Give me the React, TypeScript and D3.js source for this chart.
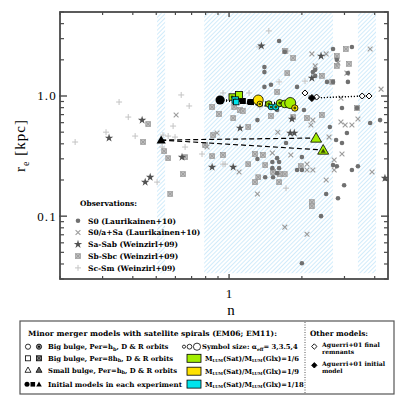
import React from 'react';
import * as d3 from 'd3';

type P = [number, number];

// ---------- Observations (n, r_e[kpc]) ----------
const s0Dots: P[] = [
  [1.61, 2.87], [1.70, 2.33], [1.40, 1.74], [1.40, 1.58], [2.22, 1.58], [2.27, 1.65], [2.27, 1.47],
  [2.69, 2.46], [3.22, 2.56], [2.79, 2.0], [3.10, 1.55], [3.10, 1.31], [2.54, 1.31], [2.69, 1.31],
  [1.49, 1.24], [1.91, 1.19], [1.31, 0.63], [1.58, 0.764], [2.04, 0.764], [2.93, 0.794], [3.38, 0.794],
  [4.21, 0.63], [3.83, 0.596], [2.77, 0.43], [3.07, 0.492], [2.93, 0.406], [1.31, 0.299], [1.41, 0.211],
  [1.51, 0.282], [1.58, 0.304], [1.61, 0.282], [1.61, 0.251], [1.51, 0.251], [1.58, 0.228], [1.52, 0.211],
  [2.0, 0.31], [1.91, 0.242], [2.0, 0.242], [2.40, 0.1], [2.0, 0.0406], [2.52, 0.153], [2.69, 0.266],
  [2.79, 0.26], [2.99, 0.181], [2.82, 0.141], [3.22, 0.242], [3.41, 0.26], [1.40, 1.19], [2.61, 0.552],
  [1.72, 0.406],
];
const s0aSa: P[] = [
  [2.20, 2.24], [2.52, 2.24], [3.83, 2.46], [2.27, 1.78], [2.82, 1.88], [3.07, 1.55], [4.25, 1.14],
  [2.22, 0.63], [2.90, 0.607], [3.02, 0.574], [3.22, 0.574], [2.18, 0.574], [2.59, 0.455], [1.59, 0.50],
  [0.892, 0.492], [0.604, 0.695], [1.10, 0.233], [1.31, 0.153], [1.80, 0.323], [1.51, 0.335], [2.10, 0.271],
  [2.10, 0.242], [2.22, 0.242], [1.70, 0.081], [2.10, 0.0708], [2.52, 0.20], [2.72, 0.293], [2.72, 0.242],
  [2.93, 0.329], [3.90, 0.233], [0.811, 0.376], [2.90, 0.96], [3.41, 0.643],
];
const saSab: P[] = [
  [1.36, 2.61], [2.40, 2.15], [2.20, 1.41], [1.11, 0.541], [1.79, 0.492], [1.86, 0.492], [0.851, 0.256],
  [1.04, 0.256], [0.639, 0.31], [0.437, 0.63], [0.319, 0.447], [0.472, 0.211], [0.45, 0.192], [4.41, 0.207],
  [1.82, 0.643],
];
const sbSbc: P[] = [
  [1.84, 2.07], [1.70, 2.37], [3.04, 2.46], [2.79, 2.15], [2.79, 1.78], [3.13, 1.85], [1.74, 1.55],
  [2.42, 1.47], [2.67, 1.31], [0.851, 0.81], [1.05, 0.81], [1.04, 0.655], [1.20, 0.552], [1.49, 0.681],
  [1.84, 0.668], [2.10, 0.655], [2.42, 0.695], [3.38, 0.794], [0.859, 0.473], [0.796, 0.391], [0.851, 0.316],
  [0.944, 0.323], [1.20, 0.271], [1.28, 0.329], [1.32, 0.211], [1.28, 0.192], [1.38, 0.323], [1.41, 0.266],
  [1.52, 0.233], [1.62, 0.224], [1.70, 0.224], [1.61, 0.192], [1.98, 0.261], [2.20, 0.131], [2.20, 0.121],
  [0.539, 0.348], [0.658, 0.31], [0.645, 0.224], [0.571, 0.153], [0.56, 0.304], [0.463, 0.584], [0.441, 0.414],
  [0.909, 0.708], [1.11, 0.764], [1.14, 0.75], [1.58, 1.08],
];
const scSm: P[] = [
  [1.46, 3.48], [1.75, 2.37], [1.33, 2.56], [2.06, 1.33], [1.61, 1.31], [0.944, 1.06], [1.21, 1.06],
  [0.634, 1.02], [0.684, 0.826], [0.587, 0.562], [0.351, 0.891], [0.383, 0.668], [0.31, 0.50], [0.409, 0.464],
  [0.231, 0.414], [0.56, 0.464], [0.598, 0.455], [0.529, 0.376], [0.658, 0.376], [0.773, 0.329], [0.504, 0.192],
  [0.944, 0.271], [0.963, 0.271], [1.72, 0.171], [1.34, 0.81], [0.533, 0.473],
];

// ---------- Models ----------
// [n, re, colour key, orbit ('D'|'R'), radius]
type M = [number, number, string, string, number];
const initCircle: P = [0.918, 0.926];
const initSquares: P[] = [[1.14, 0.909], [1.23, 0.891]];
const initTriangle: P = [0.524, 0.43];
const circleRemnants: M[] = [
  [1.32, 0.926, 'y', 'D', 5], [1.34, 0.858, 'y', 'R', 2.8], [1.46, 0.858, 'g', 'R', 3.2],
  [1.49, 0.81, 'c', 'R', 2.8], [1.56, 0.81, 'c', 'R', 3.2], [1.62, 0.874, 'g', 'R', 3.5],
  [1.70, 0.858, 'g', 'D', 3.8], [1.79, 0.874, 'g', 'D', 5.5], [1.87, 0.794, 'y', 'R', 3.2],
];
const squareRemnants: M[] = [
  [1.03, 0.981, 'g', 'R', 3.2], [1.10, 1.02, 'g', 'D', 3.5], [1.06, 0.926, 'c', 'R', 3.2], [1.07, 0.891, 'c', 'D', 2.8],
];
const triangleRemnants: M[] = [
  [2.29, 0.447, 'g', 'D', 5.5], [2.45, 0.355, 'g', 'R', 5.5],
];
const aguerriInitial: P = [2.20, 0.962];
const aguerriFinal: P[] = [[2.06, 1.06], [2.30, 0.98], [3.55, 1.0], [3.79, 1.0]];

const hatchBands: P[] = [[0.504, 0.544], [0.789, 2.69], [3.41, 4.05]];
const yTicksMajor = [0.1, 1];
const yTicksMinor = [0.03, 0.04, 0.05, 0.06, 0.07, 0.08, 0.09, 0.2, 0.3, 0.4, 0.5, 0.6, 0.7, 0.8, 0.9, 2, 3, 4, 5];
const xTicksMajor = [1];
const xTicksMinor = [0.2, 0.3, 0.4, 0.5, 0.6, 0.7, 0.8, 0.9, 2, 3, 4];

const obsLegend = [
  { t: 'dot', label: 'S0 (Laurikainen+10)' },
  { t: 'x', label: 'S0/a+Sa (Laurikainen+10)' },
  { t: 'star', label: 'Sa-Sab (Weinzirl+09)' },
  { t: 'xbox', label: 'Sb-Sbc (Weinzirl+09)' },
  { t: 'plus', label: 'Sc-Sm (Weinzirl+09)' },
];
const ratioLabels = ['1/6', '1/9', '1/18'];

const COL: Record<string, string> = { g: '#a2ee00', y: '#ffe100', c: '#00e4ec' };

const X0 = 60, X1 = 388, Y0 = 12, Y1 = 279;
const x = d3.scaleLog().domain([0.2, 4.54]).range([X0, X1]);
const y = d3.scaleLog().domain([0.03, 5]).range([Y1, Y0]);

const starPath = d3.symbol().type(d3.symbolStar).size(22)() as string;
const LF = 'DejaVu Serif, serif';
const AF = 'Liberation Serif, serif';

function Marker({ t, cx, cy }: { t: string; cx: number; cy: number }) {
  if (t === 'dot') return <circle cx={cx} cy={cy} r={2.3} fill="#707070" />;
  if (t === 'x') {
    const s = 2.4;
    return <path d={`M${cx - s},${cy - s}L${cx + s},${cy + s}M${cx - s},${cy + s}L${cx + s},${cy - s}`} stroke="#9c9c9c" strokeWidth={1.1} />;
  }
  if (t === 'star') return <path d={starPath} transform={`translate(${cx},${cy})`} fill="#525252" />;
  if (t === 'xbox') {
    const s = 2.4;
    return (
      <g>
        <rect x={cx - s} y={cy - s} width={2 * s} height={2 * s} fill="#bcbcbc" stroke="#969696" strokeWidth={0.7} />
        <path d={`M${cx - s},${cy - s}L${cx + s},${cy + s}M${cx - s},${cy + s}L${cx + s},${cy - s}`} stroke="#8c8c8c" strokeWidth={0.6} />
      </g>
    );
  }
  const s = 3;
  return <path d={`M${cx - s},${cy}L${cx + s},${cy}M${cx},${cy - s}L${cx},${cy + s}`} stroke="#c4c4c4" strokeWidth={1} />;
}

function ModelMark({ shape, cx, cy, fill, orbit, r }: { shape: string; cx: number; cy: number; fill: string; orbit: string; r: number }) {
  let body: React.ReactNode;
  if (shape === 'c') body = <circle cx={cx} cy={cy} r={r} fill={fill} stroke="#000" strokeWidth={0.8} />;
  else if (shape === 's') body = <rect x={cx - r} y={cy - r} width={2 * r} height={2 * r} fill={fill} stroke="#000" strokeWidth={0.8} />;
  else body = <path d={`M${cx},${cy - r}L${cx + r},${cy + r * 0.75}L${cx - r},${cy + r * 0.75}Z`} fill={fill} stroke="#000" strokeWidth={0.8} />;
  return (
    <g>
      {body}
      {orbit === 'R' && (shape === 't'
        ? <path d={`M${cx},${cy - r * 0.3}L${cx + r * 0.45},${cy + r * 0.5}L${cx - r * 0.45},${cy + r * 0.5}Z`} fill="#3a4a00" />
        : <circle cx={cx} cy={cy} r={r * 0.45} fill="#3a4a00" />)}
    </g>
  );
}

export default function App() {
  const ttxt = { fontFamily: LF, fontWeight: 700 as const, fill: '#000' };
  return (
    <svg width={399} height={399} style={{ position: 'absolute', left: 0, top: 0, background: '#fff' }}>
      <defs>
        <pattern id="hatch" patternUnits="userSpaceOnUse" width={3} height={3} patternTransform="rotate(45)">
          <line x1={0} y1={0} x2={0} y2={3} stroke="#8ccdf4" strokeWidth={1} />
        </pattern>
        <clipPath id="plotclip"><rect x={X0} y={Y0} width={X1 - X0} height={Y1 - Y0} /></clipPath>
      </defs>
      <rect width={399} height={399} fill="#fff" />

      {/* hatched bands */}
      {hatchBands.map((b, i) => (
        <rect key={i} x={x(b[0])} y={y(4.9)} width={x(b[1]) - x(b[0])} height={y(0.0335) - y(4.9)} fill="url(#hatch)" opacity={0.8} />
      ))}

      <g clipPath="url(#plotclip)">
        {scSm.map((p, i) => <Marker key={'p' + i} t="plus" cx={x(p[0])} cy={y(p[1])} />)}
        {sbSbc.map((p, i) => <Marker key={'b' + i} t="xbox" cx={x(p[0])} cy={y(p[1])} />)}
        {s0aSa.map((p, i) => <Marker key={'x' + i} t="x" cx={x(p[0])} cy={y(p[1])} />)}
        {s0Dots.map((p, i) => <Marker key={'d' + i} t="dot" cx={x(p[0])} cy={y(p[1])} />)}
        {saSab.map((p, i) => <Marker key={'s' + i} t="star" cx={x(p[0])} cy={y(p[1])} />)}

        {/* connecting lines */}
        {circleRemnants.map((m, i) => (
          <line key={'lc' + i} x1={x(initCircle[0])} y1={y(initCircle[1])} x2={x(m[0])} y2={y(m[1])} stroke="#000" strokeWidth={1.2} strokeDasharray="1,2" />
        ))}
        {squareRemnants.map((m, i) => (
          <line key={'ls' + i} x1={x(initSquares[0][0])} y1={y(initSquares[0][1])} x2={x(m[0])} y2={y(m[1])} stroke="#000" strokeWidth={1.2} strokeDasharray="1,2" />
        ))}
        {aguerriFinal.map((p, i) => (
          <line key={'la' + i} x1={x(aguerriInitial[0])} y1={y(aguerriInitial[1])} x2={x(p[0])} y2={y(p[1])} stroke="#000" strokeWidth={1.2} strokeDasharray="1,2" />
        ))}
        {triangleRemnants.map((m, i) => (
          <line key={'lt' + i} x1={x(initTriangle[0])} y1={y(initTriangle[1])} x2={x(m[0])} y2={y(m[1])} stroke="#000" strokeWidth={1.2} strokeDasharray="5,3" />
        ))}

        {/* Aguerri */}
        {aguerriFinal.map((p, i) => {
          const cx = x(p[0]), cy = y(p[1]), s = 3;
          return <path key={'af' + i} d={`M${cx},${cy - s}L${cx + s},${cy}L${cx},${cy + s}L${cx - s},${cy}Z`} fill="#fff" stroke="#000" strokeWidth={1} />;
        })}
        {(() => {
          const cx = x(aguerriInitial[0]), cy = y(aguerriInitial[1]), s = 3.5;
          return <path d={`M${cx},${cy - s}L${cx + s},${cy}L${cx},${cy + s}L${cx - s},${cy}Z`} fill="#000" stroke="#000" strokeWidth={1} />;
        })()}

        {/* initial models */}
        <circle cx={x(initCircle[0])} cy={y(initCircle[1])} r={4.6} fill="#000" />
        {initSquares.map((p, i) => (
          <rect key={'is' + i} x={x(p[0]) - 3} y={y(p[1]) - 3} width={6} height={6} fill="#000" />
        ))}
        {(() => {
          const cx = x(initTriangle[0]), cy = y(initTriangle[1]), r = 4.6;
          return <path d={`M${cx},${cy - r}L${cx + r},${cy + r * 0.75}L${cx - r},${cy + r * 0.75}Z`} fill="#000" />;
        })()}

        {squareRemnants.map((m, i) => (
          <ModelMark key={'ms' + i} shape="s" cx={x(m[0])} cy={y(m[1])} fill={COL[m[2]]} orbit={m[3]} r={m[4]} />
        ))}
        {circleRemnants.map((m, i) => (
          <ModelMark key={'mc' + i} shape="c" cx={x(m[0])} cy={y(m[1])} fill={COL[m[2]]} orbit={m[3]} r={m[4]} />
        ))}
        {triangleRemnants.map((m, i) => (
          <ModelMark key={'mt' + i} shape="t" cx={x(m[0])} cy={y(m[1])} fill={COL[m[2]]} orbit={m[3]} r={m[4]} />
        ))}
      </g>

      {/* frame + ticks */}
      <rect x={X0} y={Y0} width={X1 - X0} height={Y1 - Y0} fill="none" stroke="#4a4a4a" strokeWidth={1.8} />
      {yTicksMajor.map((v) => (
        <g key={'ym' + v}>
          <line x1={X0 - 1} x2={X0 + 7} y1={y(v)} y2={y(v)} stroke="#4a4a4a" strokeWidth={1.4} />
          <line x1={X1 + 1} x2={X1 - 7} y1={y(v)} y2={y(v)} stroke="#4a4a4a" strokeWidth={1.4} />
        </g>
      ))}
      {yTicksMinor.map((v) => (
        <g key={'yn' + v}>
          <line x1={X0} x2={X0 + 4} y1={y(v)} y2={y(v)} stroke="#4a4a4a" strokeWidth={1.2} />
          <line x1={X1} x2={X1 - 4} y1={y(v)} y2={y(v)} stroke="#4a4a4a" strokeWidth={1.2} />
        </g>
      ))}
      {xTicksMajor.map((v) => (
        <g key={'xm' + v}>
          <line x1={x(v)} x2={x(v)} y1={Y0} y2={Y0 + 5} stroke="#4a4a4a" strokeWidth={1.4} />
          <line x1={x(v)} x2={x(v)} y1={Y1} y2={Y1 - 5} stroke="#4a4a4a" strokeWidth={1.4} />
        </g>
      ))}
      {xTicksMinor.map((v) => (
        <g key={'xn' + v}>
          <line x1={x(v)} x2={x(v)} y1={Y0} y2={Y0 + 3} stroke="#4a4a4a" strokeWidth={1.2} />
          <line x1={x(v)} x2={x(v)} y1={Y1} y2={Y1 - 3} stroke="#4a4a4a" strokeWidth={1.2} />
        </g>
      ))}

      {/* axis labels */}
      {yTicksMajor.map((v) => (
        <text key={'yl' + v} x={X0 - 3} y={y(v) + 4.5} textAnchor="end" fontFamily={AF} fontSize={13} letterSpacing={1.2}>{v === 1 ? '1.0' : '0.1'}</text>
      ))}
      <text x={x(1)} y={298} textAnchor="middle" fontFamily={AF} fontSize={13}>1</text>
      <text x={231} y={315} textAnchor="middle" fontFamily={AF} fontSize={15}>n</text>
      <text transform={`translate(25,${(Y0 + Y1) / 2}) rotate(-90)`} textAnchor="middle" fontFamily={AF} fontSize={15} letterSpacing={1}>
        r<tspan fontSize={10} dy={4}>e</tspan><tspan dy={-4}> [kpc]</tspan>
      </text>

      {/* observations legend */}
      <text x={80} y={206} {...ttxt} fontSize={7.5} textLength={57} lengthAdjust="spacingAndGlyphs">Observations:</text>
      {obsLegend.map((o, i) => {
        const cy = 220.7 + i * 11.8;
        return (
          <g key={'ol' + i}>
            <Marker t={o.t} cx={78} cy={cy} />
            <text x={88} y={cy + 2.8} {...ttxt} fontSize={7.5}>{o.label}</text>
          </g>
        );
      })}

      {/* bottom legend box */}
      <rect x={20} y={321} width={374} height={73} fill="#fff" stroke="#555" strokeWidth={1.2} />
      <line x1={305} x2={305} y1={322} y2={393} stroke="#555" strokeWidth={1} strokeDasharray="1,1.5" />
      <text x={28} y={335.8} {...ttxt} fontSize={7.3} textLength={249} lengthAdjust="spacingAndGlyphs">Minor merger models with satellite spirals (EM06; EM11):</text>

      {/* row 1 */}
      <circle cx={28} cy={346.7} r={2.6} fill="#fff" stroke="#000" strokeWidth={0.8} />
      <circle cx={39} cy={346.7} r={2.6} fill="#888" stroke="#000" strokeWidth={0.8} />
      <circle cx={39} cy={346.7} r={1} fill="#000" />
      <text x={48} y={349.2} {...ttxt} fontSize={6.8}>Big bulge, Per=h<tspan fontSize={5} dy={1.5}>b</tspan><tspan dy={-1.5}>, D &amp; R orbits</tspan></text>
      {/* row 2 */}
      <rect x={25.5} y={355.8} width={5} height={5} fill="#fff" stroke="#000" strokeWidth={0.8} />
      <rect x={36.5} y={355.8} width={5} height={5} fill="#888" stroke="#000" strokeWidth={0.8} />
      <path d="M36.5,355.8L41.5,360.8M36.5,360.8L41.5,355.8" stroke="#000" strokeWidth={0.6} />
      <text x={48} y={360.8} {...ttxt} fontSize={6.8}>Big bulge, Per=8h<tspan fontSize={5} dy={1.5}>b</tspan><tspan dy={-1.5}>, D &amp; R orbits</tspan></text>
      {/* row 3 */}
      <path d="M28,367L31,372.3L25,372.3Z" fill="#fff" stroke="#000" strokeWidth={0.8} />
      <path d="M39,367L42,372.3L36,372.3Z" fill="#666" stroke="#000" strokeWidth={0.8} />
      <text x={48} y={372.5} {...ttxt} fontSize={6.8}>Small bulge, Per=h<tspan fontSize={5} dy={1.5}>b</tspan><tspan dy={-1.5}>, D &amp; R orbits</tspan></text>
      {/* row 4 */}
      <circle cx={27} cy={384.3} r={2.5} fill="#000" />
      <rect x={30.5} y={382} width={4.6} height={4.6} fill="#000" />
      <path d="M39,381.5L41.8,386.5L36.2,386.5Z" fill="#000" />
      <text x={48} y={386.8} {...ttxt} fontSize={6.8} textLength={134} lengthAdjust="spacingAndGlyphs">Initial models in each experiment</text>

      {/* size legend */}
      <circle cx={184} cy={346.7} r={1.6} fill="#fff" stroke="#000" strokeWidth={0.8} />
      <circle cx={189.5} cy={346.7} r={2.4} fill="#fff" stroke="#000" strokeWidth={0.8} />
      <circle cx={197} cy={346.7} r={3.6} fill="#fff" stroke="#000" strokeWidth={0.8} />
      <text x={202} y={349.2} {...ttxt} fontSize={6.8}>Symbol size: α<tspan fontSize={4.5} dy={1.5}>eff</tspan><tspan dy={-1.5}>= 3,3.5,4</tspan></text>
      {ratioLabels.map((r, i) => {
        const cy = 358.3 + i * 12.9;
        const key = ['g', 'y', 'c'][i];
        return (
          <g key={'rl' + i}>
            <rect x={187} y={cy - 4} width={14} height={8} fill={COL[key]} stroke="#000" strokeWidth={0.8} />
            <text x={205} y={cy + 2.5} {...ttxt} fontSize={6.8}>
              M<tspan fontSize={4} dy={1.5}>LUM</tspan><tspan dy={-1.5}>(Sat)/M</tspan><tspan fontSize={4} dy={1.5}>LUM</tspan><tspan dy={-1.5}>(Glx)={r}</tspan>
            </text>
          </g>
        );
      })}

      {/* other models */}
      <text x={310} y={335.8} {...ttxt} fontSize={7.3}>Other models:</text>
      <path d="M314.3,343.8L317,346.5L314.3,349.2L311.6,346.5Z" fill="#fff" stroke="#000" strokeWidth={0.9} />
      <text x={322} y={347} {...ttxt} fontSize={6.2}>Aguerri+01 final</text>
      <text x={322} y={354} {...ttxt} fontSize={6}>remnants</text>
      <path d="M314.3,362.6L317,365.3L314.3,368L311.6,365.3Z" fill="#000" stroke="#000" strokeWidth={0.9} />
      <text x={322} y={365.5} {...ttxt} fontSize={6.2}>Aguerri+01 initial</text>
      <text x={322} y={372.5} {...ttxt} fontSize={6}>model</text>
    </svg>
  );
}
